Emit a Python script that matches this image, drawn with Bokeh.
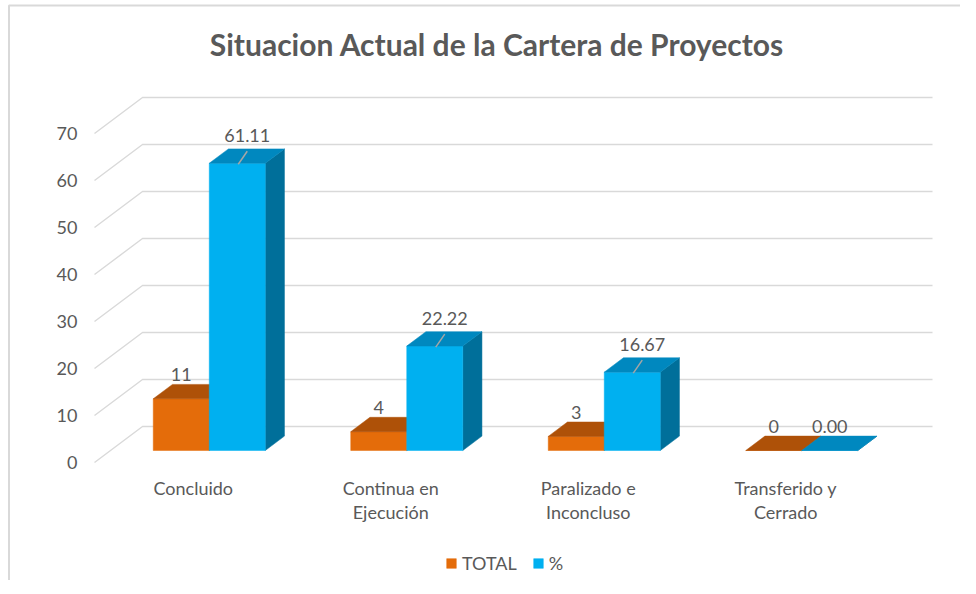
from bokeh.plotting import figure
from bokeh.models import Range1d, Legend, LegendItem
from bokeh.core.properties import value
from bokeh.embed import file_html
from bokeh.resources import INLINE

# ---------------- data ----------------
categories = ["Concluido", "Continua en\nEjecución", "Paralizado e\nInconcluso", "Transferido y\nCerrado"]
total = [11, 4, 3, 0]
pct = [61.11, 22.22, 16.67, 0.00]
total_labels = ["11", "4", "3", "0"]
pct_labels = ["61.11", "22.22", "16.67", "0.00"]
y_ticks = [0, 10, 20, 30, 40, 50, 60, 70]
series_names = ["TOTAL", "%"]
title_text = "Situacion Actual de la Cartera de Proyectos"

# ---------------- style / geometry ----------------
W, H = 960, 580
FLOOR_Y = 462.0        # y (px from top) of the front floor (value 0)
S = 4.7                # px per unit
FLOOR_X0 = 94.0        # front-left of floor
CAT_W = 197.5          # px per category
DEPTH_X, DEPTH_Y = 48.0, 36.0   # full depth vector (px)
BAR_F0 = 1.0 / 3.0     # bar front position as fraction of depth
BAR_D = 0.4            # bar depth as fraction of depth
BAR_W = 56.0
GRID_COLOR = "#D9D9D9"
TEXT_COLOR = "#595959"
FONT = "Lato"
TXT_UP = 8.0           # baseline correction for text glyphs (px)

ORANGE = ("#E46C0A", "#AE5108", "#8A4106")   # front, top, side
BLUE = ("#00B0F0", "#0088BF", "#006F9A")


def vy(px):
    """convert a vertical pixel offset to value units"""
    return px / S


def sy(px_from_top):
    """value-unit coordinate of a given pixel row"""
    return (FLOOR_Y - px_from_top) / S


p = figure(width=W, height=H, output_backend="svg", toolbar_location=None,
           x_range=Range1d(0, W), y_range=Range1d(sy(H), sy(0)),
           x_axis_type=None, y_axis_type=None, min_border=0)
p.grid.visible = False
p.outline_line_color = None
p.background_fill_color = "white"
p.border_fill_color = "white"

# chart border (top + left visible)
p.line(x=[8.5, 8.5, W], y=[sy(H), sy(5), sy(5)], line_color=GRID_COLOR, line_width=2)

# back wall / side wall gridlines
back_x1 = FLOOR_X0 + DEPTH_X + CAT_W * len(categories)
for t in y_ticks:
    p.line(x=[FLOOR_X0, FLOOR_X0 + DEPTH_X, back_x1],
           y=[t, t + vy(DEPTH_Y), t + vy(DEPTH_Y)],
           line_color=GRID_COLOR, line_width=1.4)

# y tick labels
p.text(x=[FLOOR_X0 - 17] * len(y_ticks), y=[t - vy(8.0) + vy(TXT_UP) for t in y_ticks],
       text=[str(t) for t in y_ticks], text_align="right", text_baseline="alphabetic",
       text_font=value(FONT), text_font_size="18px", text_color=TEXT_COLOR)

# category labels
for i, c in enumerate(categories):
    cx = FLOOR_X0 + CAT_W * (i + 0.5)
    for k, line in enumerate(c.split("\n")):
        p.text(x=[cx], y=[sy(495 + 24 * k - TXT_UP)], text=[line],
               text_align="center", text_baseline="alphabetic",
               text_font=value(FONT), text_font_size="18px", text_color=TEXT_COLOR)

# 3D bars
fdx, fdy = DEPTH_X * BAR_F0, vy(DEPTH_Y * BAR_F0)
ddx, ddy = DEPTH_X * BAR_D, vy(DEPTH_Y * BAR_D)

legend_renderers = []
for s_idx, (vals, cols) in enumerate([(total, ORANGE), (pct, BLUE)]):
    fronts_x, fronts_y, tops_x, tops_y, sides_x, sides_y = [], [], [], [], [], []
    for i, v in enumerate(vals):
        cx = FLOOR_X0 + CAT_W * (i + 0.5) + fdx
        x0 = cx - BAR_W + s_idx * BAR_W
        x1 = x0 + BAR_W
        y0 = fdy
        y1 = fdy + v
        fronts_x.append([x0, x1, x1, x0]); fronts_y.append([y0, y0, y1, y1])
        tops_x.append([x0, x1, x1 + ddx, x0 + ddx]); tops_y.append([y1, y1, y1 + ddy, y1 + ddy])
        sides_x.append([x1, x1 + ddx, x1 + ddx, x1]); sides_y.append([y0, y0 + ddy, y1 + ddy, y1])
    p.patches(xs=sides_x, ys=sides_y, fill_color=cols[2], line_color=cols[2], line_width=0.5)
    front = p.patches(xs=fronts_x, ys=fronts_y, fill_color=cols[0], line_color=cols[0], line_width=0.5)
    p.patches(xs=tops_x, ys=tops_y, fill_color=cols[1], line_color=cols[1], line_width=0.5)
    legend_renderers.append(front)

# data labels
for i, v in enumerate(total):
    cx = FLOOR_X0 + CAT_W * (i + 0.5) + fdx - BAR_W / 2
    p.text(x=[cx], y=[fdy + v + ddy + vy(1.5 + TXT_UP)], text=[total_labels[i]],
           text_align="center", text_baseline="alphabetic",
           text_font=value(FONT), text_font_size="18px", text_color=TEXT_COLOR)
for i, v in enumerate(pct):
    cx = FLOOR_X0 + CAT_W * (i + 0.5) + fdx + BAR_W / 2
    if v > 0:
        lx = cx + 10
        ly = fdy + v + vy(20 + TXT_UP)
        p.line(x=[cx + 1, cx + 10], y=[fdy + v - vy(1), fdy + v + vy(12)],
               line_color="#A6A6A6", line_width=1.5)
    else:
        lx = cx
        ly = fdy + v + ddy + vy(1.5 + TXT_UP)
    p.text(x=[lx], y=[ly], text=[pct_labels[i]],
           text_align="center", text_baseline="alphabetic",
           text_font=value(FONT), text_font_size="18px", text_color=TEXT_COLOR)

# title
p.text(x=[496.5], y=[sy(53 - TXT_UP - 2)], text=[title_text], text_align="center",
       text_baseline="alphabetic", text_font=value(FONT), text_font_size="30px",
       text_font_style="bold", text_color=TEXT_COLOR)

# legend
legend = Legend(items=[LegendItem(label=n, renderers=[r]) for n, r in zip(series_names, legend_renderers)],
                orientation="horizontal", location=(445, H - 563 - 6 - 5),
                glyph_width=12, glyph_height=12, label_text_font=FONT,
                label_text_font_size="18px", label_text_color=TEXT_COLOR,
                label_standoff=5, spacing=15, padding=0, margin=0,
                border_line_color=None, background_fill_alpha=0, label_height=12)
p.add_layout(legend, "center")

open("out.html", "w").write(file_html(p, INLINE))
